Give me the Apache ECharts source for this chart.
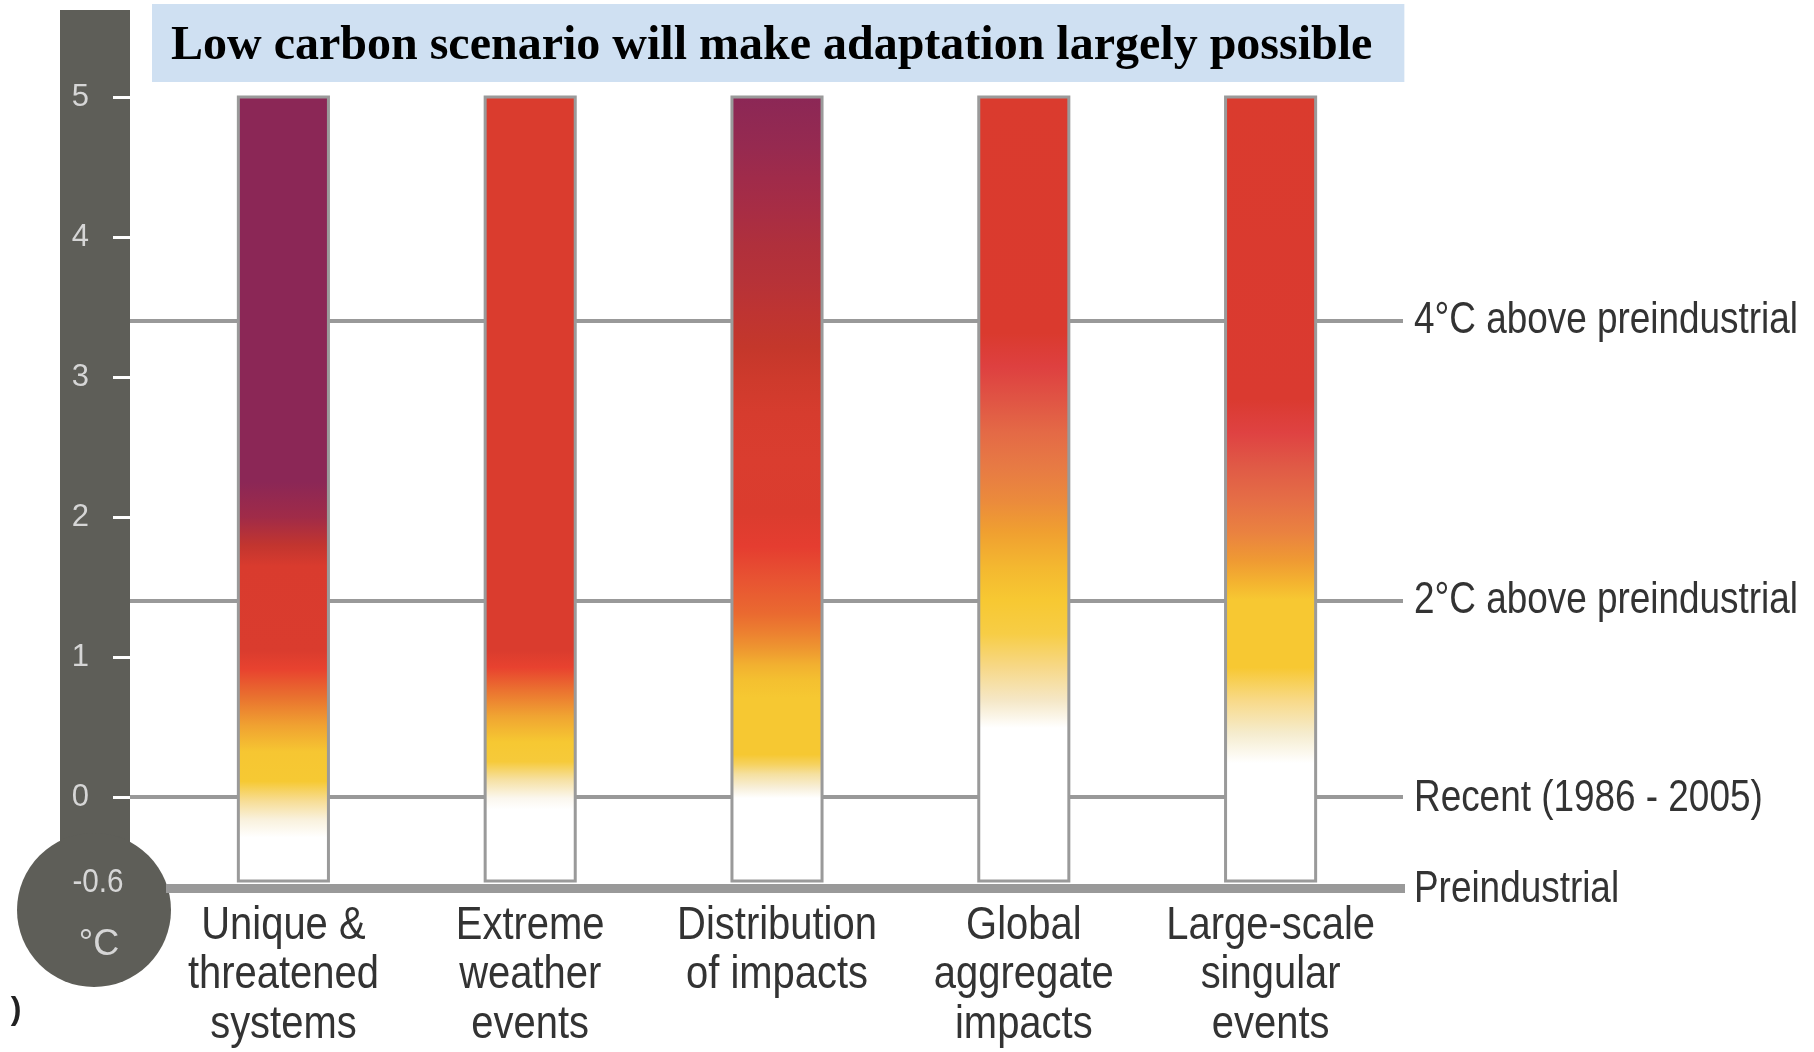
<!DOCTYPE html>
<html><head><meta charset="utf-8">
<script src="https://cdn.jsdelivr.net/npm/echarts@6/dist/echarts.min.js"></script>
<style>html,body{margin:0;padding:0;background:#fff}#c{width:1814px;height:1052px}</style>
</head><body><div id="c"></div>
<script>
// ---------- data ----------
const titleText = 'Low carbon scenario will make adaptation largely possible';
const categories = [
  'Unique &\nthreatened\nsystems',
  'Extreme\nweather\nevents',
  'Distribution\nof impacts',
  'Global\naggregate\nimpacts',
  'Large-scale\nsingular\nevents'
];
const barLow  = [-0.6, -0.6, -0.6, -0.6, -0.6];
const barHigh = [5, 5, 5, 5, 5];
const yTickValues = [0, 1, 2, 3, 4, 5];
const bulbLabel = '-0.6';
const unitLabel = '°C';
const refLineNames  = ['4°C above preindustrial', '2°C above preindustrial', 'Recent (1986 - 2005)'];
const refLineValues = [3.4, 1.4, 0];
const baselineName  = 'Preindustrial';
const axisMin = -0.65;
const axisMax = 5;

// colour along each bar: [temperature value, colour]
const stopsUnique = [[5.0,'#8b2756'],[2.25,'#8b2756'],[2.0,'#a02b48'],[1.8,'#c2352f'],[1.65,'#d93b2e'],[1.05,'#da3c2e'],[0.92,'#e8422f'],[0.72,'#e9712f'],[0.52,'#f0a131'],[0.33,'#f6c632'],[0.12,'#f6c933'],[-0.02,'#f7dd95'],[-0.15,'#f9f1dc'],[-0.28,'#ffffff'],[-0.6,'#ffffff']];
const stopsExtreme = [[5.0,'#da3c2e'],[1.05,'#da3c2e'],[0.93,'#e8422f'],[0.76,'#eb7430'],[0.58,'#f0a532'],[0.4,'#f6c832'],[0.26,'#f6ca3a'],[0.13,'#f6e1a4'],[0.0,'#fbf7ee'],[-0.08,'#ffffff'],[-0.6,'#ffffff']];
const stopsDistribution = [[5.0,'#8b2756'],[4.64,'#962a50'],[4.41,'#a02b4a'],[4.17,'#a82d44'],[3.93,'#b0303c'],[3.69,'#b63238'],[3.46,'#be3432'],[3.21,'#c4372b'],[2.98,'#ce3a2c'],[2.74,'#d63c2e'],[2.4,'#da3d2f'],[2.03,'#db3c2e'],[1.79,'#e53d30'],[1.55,'#e85432'],[1.31,'#ea6a30'],[1.19,'#ec7e30'],[1.07,'#ee9530'],[0.95,'#f2b030'],[0.84,'#f4c030'],[0.71,'#f6c832'],[0.31,'#f6c832'],[0.24,'#f6d260'],[0.17,'#f5e0a0'],[0.07,'#f8f0dc'],[0.0,'#ffffff'],[-0.6,'#ffffff']];
const stopsGlobal = [[5.0,'#da3b2e'],[3.31,'#da3a2e'],[3.07,'#de4040'],[2.84,'#e05444'],[2.6,'#e46a46'],[2.36,'#e77a44'],[2.12,'#eb8a3c'],[1.89,'#f0a030'],[1.64,'#f4b830'],[1.41,'#f7c832'],[1.17,'#f7cd45'],[0.93,'#f7d888'],[0.69,'#f5e8c8'],[0.5,'#ffffff'],[-0.6,'#ffffff']];
const stopsSingular = [[5.0,'#da3b2e'],[2.84,'#da3a30'],[2.6,'#df4242'],[2.36,'#e05a46'],[2.12,'#e56e46'],[1.89,'#ea8240'],[1.69,'#ef9a33'],[1.53,'#f4b430'],[1.41,'#f7c832'],[0.93,'#f7c832'],[0.69,'#f8da8a'],[0.46,'#f5ecce'],[0.25,'#ffffff'],[-0.6,'#ffffff']];
const barStops = [stopsUnique, stopsExtreme, stopsDistribution, stopsGlobal, stopsSingular];

// ---------- chart ----------
const SANS = '"Liberation Sans", Arial, sans-serif';
const chart = echarts.init(document.getElementById('c'), null, {renderer: 'canvas'});

// bars + category labels (condensed look via horizontal scale)
function renderBar(params, api) {
  const i = api.value(0);
  const lo = api.value(1), hi = api.value(2);
  const pTop = api.coord([i, hi]);
  const pBot = api.coord([i, lo]);
  const pBase = api.coord([i, axisMin]);
  const w = api.size([1, 0])[0] * 0.365;
  const stops = barStops[params.dataIndex].map(function (s) {
    return {offset: Math.min(1, Math.max(0, (hi - s[0]) / (hi - lo))), color: s[1]};
  });
  return {
    type: 'group',
    children: [
      {
        type: 'rect',
        shape: {x: pTop[0] - w / 2, y: pTop[1], width: w, height: pBot[1] - pTop[1]},
        style: {fill: new echarts.graphic.LinearGradient(0, 0, 0, 1, stops), stroke: '#9a9a9a', lineWidth: 3}
      },
      {
        type: 'text',
        x: pTop[0], y: pBase[1] + 13,
        scaleX: 0.85,
        style: {text: categories[params.dataIndex], fontFamily: SANS, fontSize: 47, lineHeight: 49.5,
                fill: '#333', align: 'center', verticalAlign: 'top'}
      }
    ]
  };
}

// labels at the right end of the reference lines
const refLabelData = refLineValues.map(function (v, k) { return [categories.length - 1, v, k]; });
refLabelData.push([categories.length - 1, axisMin, refLineNames.length]);
const refLabelNames = refLineNames.concat([baselineName]);
function renderRefLabel(params, api) {
  const p = api.coord([api.value(0), api.value(1)]);
  const half = api.size([1, 0])[0] / 2;
  const k = api.value(2);
  return {
    type: 'text',
    x: p[0] + half + 20, y: p[1] + (k >= refLineNames.length - 1 ? 2 : 0),
    scaleX: 0.82,
    style: {text: refLabelNames[k], fontFamily: SANS, fontSize: 45,
            fill: '#333', align: 'left', verticalAlign: 'middle'}
  };
}

const refData = refLineValues.map(function (v, k) {
  return [{name: refLineNames[k], xAxis: -Infinity, yAxis: v, x: 130}, {xAxis: Infinity, yAxis: v, x: 1403}];
});
refData.push([{name: baselineName, xAxis: -Infinity, yAxis: axisMin, x: 166, lineStyle: {width: 9}}, {xAxis: Infinity, yAxis: axisMin, x: 1405}]);

const option = {
  animation: false,
  backgroundColor: '#ffffff',
  title: {
    text: titleText,
    left: 152, top: 4,
    padding: [19, 32, 11, 19],
    backgroundColor: '#cfe0f2',
    textStyle: {fontFamily: '"Liberation Serif", "Times New Roman", serif', fontWeight: 'bold', fontSize: 48, lineHeight: 48, color: '#000'}
  },
  grid: {left: 160, right: 420, top: 97, bottom: 164, containLabel: false},
  xAxis: {
    type: 'category',
    data: categories,
    axisLine: {show: false, onZero: false},
    axisTick: {show: false},
    splitLine: {show: false},
    axisLabel: {show: false}
  },
  yAxis: {
    type: 'value',
    min: axisMin, max: axisMax,
    position: 'left',
    offset: 30,
    axisLine: {show: false},
    splitLine: {show: false},
    axisTick: {show: true, customValues: yTickValues, length: 17, lineStyle: {color: '#ffffff', width: 3}},
    axisLabel: {customValues: yTickValues, margin: 41, fontSize: 31, color: '#d6d6d6', fontFamily: SANS}
  },
  series: [{
    type: 'custom',
    name: 'Risk',
    renderItem: renderBar,
    encode: {x: 0, y: [1, 2]},
    silent: true,
    z: 2,
    data: categories.map(function (c, i) { return [i, barLow[i], barHigh[i]]; }),
    markLine: {
      silent: true,
      symbol: 'none',
      z: 1,
      animation: false,
      lineStyle: {color: '#999999', width: 4, type: 'solid'},
      label: {show: false},
      emphasis: {disabled: true},
      data: refData
    }
  }, {
    type: 'custom',
    name: 'Reference labels',
    renderItem: renderRefLabel,
    encode: {x: 0, y: 1},
    silent: true,
    z: 3,
    data: refLabelData
  }],
  graphic: [
    {type: 'rect', z: -1, shape: {x: 60, y: 10, width: 70, height: 880}, style: {fill: '#5e5e58'}},
    {type: 'circle', z: -1, shape: {cx: 94, cy: 910, r: 77}, style: {fill: '#5e5e58'}},
    {type: 'text', z: 10, x: 98, y: 883, scaleX: 0.9, style: {text: bulbLabel, fontSize: 33, fontFamily: SANS, fill: '#d6d6d6', align: 'center', verticalAlign: 'middle'}},
    {type: 'text', z: 10, x: 99, y: 945, style: {text: unitLabel, fontSize: 36, fontFamily: SANS, fill: '#d6d6d6', align: 'center', verticalAlign: 'middle'}},
    {type: 'text', z: 10, x: 16, y: 1010, style: {text: ')', fontSize: 32, fontWeight: 'bold', fontFamily: SANS, fill: '#222', align: 'center', verticalAlign: 'middle'}}
  ]
};
chart.setOption(option);
</script>
</body></html>
